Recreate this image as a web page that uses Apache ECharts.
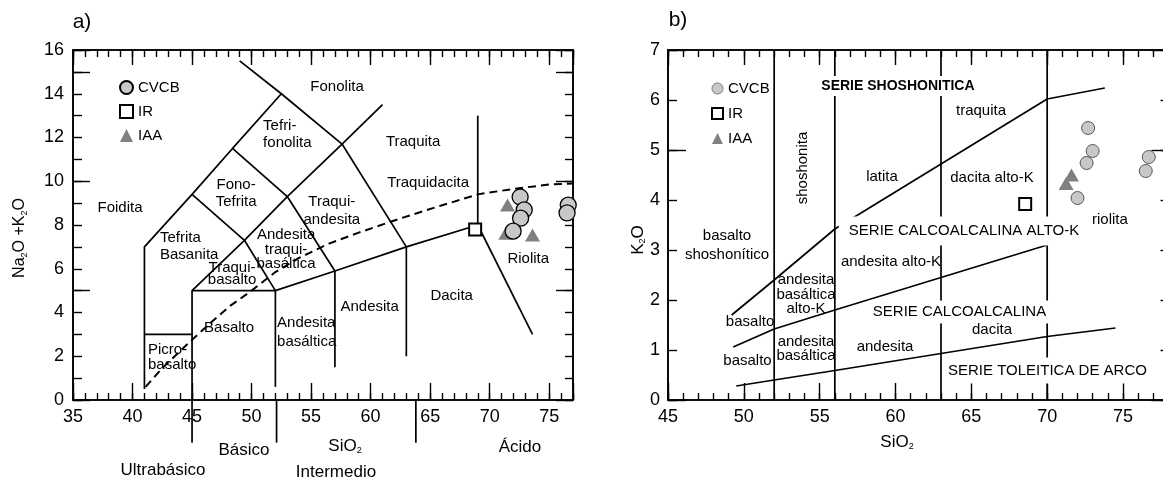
<!DOCTYPE html>
<html><head><meta charset="utf-8">
<script src="https://cdn.jsdelivr.net/npm/echarts@6/dist/echarts.min.js"></script>
<style>html,body{margin:0;padding:0;background:#fff}#c{width:1163px;height:487px}</style>
</head><body><div id="c"></div>
<script>
// ---------------- DATA ----------------
// Panel a) TAS diagram (SiO2 vs Na2O+K2O)
const tasSiO2Range = [35, 77];
const tasAlkRange = [0, 16];
const tasBoundaries = [
  [[41,0.5],[41,7],[45,9.4],[48.4,11.5],[52.5,14]],
  [[41,3],[45,3]],
  [[45,-1.95],[45,5],[49.4,7.3],[53,9.3],[57.6,11.7],[61,13.5]],
  [[45,9.4],[49.4,7.3],[52,5]],
  [[48.4,11.5],[53,9.3],[57,5.9]],
  [[49,15.5],[52.5,14],[57.6,11.7],[63,7]],
  [[45,5],[52,5],[57,5.9],[63,7],[69,8]],
  [[52,5],[52,0.6]],
  [[57,5.9],[57,1.5]],
  [[63,7],[63,2]],
  [[69,8],[69,13]],
  [[69,8],[73.6,3]]
];
const tasClassDividers = [
  [[52.1,0],[52.1,-1.95]],
  [[63.8,0],[63.8,-1.95]]
];
const tasAlkalineDivide = [[41.1,0.6],[42.5,1.46],[44.8,2.65],[46.5,3.5],[48.2,4.3],[50,5.0],[52,5.85],[54,6.5],[56.5,7.15],[59,7.65],[62.5,8.3],[66,8.9],[69,9.4],[72,9.65],[75,9.85],[77,9.9]];
const tasCVCB = [[72.56,9.28],[72.9,8.69],[72.6,8.31],[71.97,7.72],[76.6,8.91],[76.5,8.55]];
const tasIR = [[68.78,7.8]];
const tasIAA = [[71.5,8.91],[71.36,7.62],[73.6,7.54]];
const tasRockNames = [
  ['Fonolita', 57.18, 14.31],
  ['Tefri-\nfonolita', 50.97, 12.14],
  ['Traquita', 63.57, 11.79],
  ['Traquidacita', 64.83, 9.92],
  ['Traqui-\nandesita', 56.74, 8.64],
  ['Fono-\nTefrita', 48.7, 9.46],
  ['Foidita', 38.95, 8.78],
  ['Tefrita\nBasanita', 42.31, 7.02],
  ['Andesita\ntraqui-\nbasáltica', 52.9, 6.88],
  ['Traqui-\nbasalto', 48.36, 5.76],
  ['Basalto', 48.11, 3.29],
  ['Picro-\nbasalto', 41.3, 1.94],
  ['Andesita\nbasáltica', 52.14, 3.09],
  ['Andesita', 59.92, 4.25],
  ['Dacita', 66.81, 4.75],
  ['Riolita', 73.24, 6.45]
];

// Panel b) K2O vs SiO2
const k2oSiO2Range = [45, 78];
const k2oRange = [0, 7];
const k2oVerticals = [
  [[52,0],[52,7]],
  [[56,0],[56,7]],
  [[63,0],[63,7]],
  [[70,0],[70,7]]
];
const shoshoniteLine = [[49.2,1.7],[52,2.4],[56,3.42],[63,4.72],[70,6.02],[73.8,6.24]];
const highKLine = [[49.3,1.06],[52,1.42],[56,1.8],[63,2.45],[70,3.1]];
const tholeiiteLine = [[49.5,0.28],[52,0.4],[56,0.59],[63,0.93],[70,1.27],[74.5,1.44]];
const k2oCVCB = [[72.7,5.44],[73.0,4.98],[72.6,4.74],[72.0,4.04],[76.7,4.86],[76.5,4.58]];
const k2oIR = [[68.55,3.92]];
const k2oIAA = [[71.6,4.5],[71.25,4.33]];
const k2oNames = [
  ['SERIE SHOSHONITICA', 60.16, 6.28],
  ['shoshonita', 53.9, 4.64],
  ['traquita', 65.64, 5.78],
  ['latita', 59.11, 4.46],
  ['dacita alto-K', 66.36, 4.44],
  ['basalto\nshoshonítico', 48.89, 3.10],
  ['andesita\nbasáltica\nalto-K', 54.1, 2.11],
  ['andesita alto-K', 59.70, 2.76],
  ['basalto', 50.41, 1.56],
  ['SERIE CALCOALCALINA', 64.22, 1.76],
  ['andesita\nbasáltica', 54.1, 1.02],
  ['basalto', 50.24, 0.78],
  ['andesita', 59.31, 1.06],
  ['dacita', 66.36, 1.4],
  ['riolita', 74.14, 3.6],
  ['SERIE TOLEITICA DE ARCO', 70.02, 0.59],
  ['SERIE CALCOALCALINA ALTO-K', 64.32, 3.38]
];

// ---------------- STYLES ----------------
const F = "'Liberation Sans', Arial, Helvetica, sans-serif";
const tasLabelStyle = {
  'Tefri-\nfonolita': {align: 'left', lineHeight: 17},
  'Traqui-\nandesita': {lineHeight: 18},
  'Fono-\nTefrita': {lineHeight: 17},
  'Tefrita\nBasanita': {align: 'left', lineHeight: 17},
  'Andesita\ntraqui-\nbasáltica': {lineHeight: 14.5},
  'Traqui-\nbasalto': {lineHeight: 12.5},
  'Picro-\nbasalto': {align: 'left', lineHeight: 15},
  'Andesita\nbasáltica': {align: 'left', lineHeight: 19}
};
const k2oLabelStyle = {
  'SERIE SHOSHONITICA': {fontWeight: 'bold', fontSize: 14, backgroundColor: '#fff', padding: [3, 3], lineHeight: 14},
  'shoshonita': {rotate: 90},
  'basalto\nshoshonítico': {lineHeight: 19},
  'andesita\nbasáltica\nalto-K': {lineHeight: 14.5},
  'andesita\nbasáltica': {lineHeight: 14},
  'SERIE CALCOALCALINA': {backgroundColor: '#fff', padding: [4, 4], lineHeight: 15},
  'SERIE TOLEITICA DE ARCO': {backgroundColor: '#fff', padding: [3, 4, 8, 4], lineHeight: 15},
  'SERIE CALCOALCALINA ALTO-K': {backgroundColor: '#fff', padding: [6, 4, 8, 10], lineHeight: 15}
};

function axis(grid, pos, range, interval, tickLen, fmt, margin) {
  return {
    type: 'value', gridIndex: grid, position: pos, min: range[0], max: range[1], interval: interval,
    axisLine: {show: true, onZero: false, lineStyle: {color: '#000', width: 1.6}},
    axisTick: {show: true, inside: true, length: tickLen, lineStyle: {color: '#000', width: 1.4}},
    axisLabel: fmt ? {show: true, color: '#000', fontSize: 18, fontFamily: F, margin: margin, formatter: fmt, showMinLabel: true, showMaxLabel: true} : {show: false},
    splitLine: {show: false}, minorTick: {show: false}, minorSplitLine: {show: false}, splitArea: {show: false}
  };
}
const every5 = v => (Math.abs(v % 5) < 1e-9 ? String(v) : '');
const every2 = v => (Math.abs(v % 2) < 1e-9 ? String(v) : '');

function lineSeries(pts, xi, yi, dashed) {
  return {
    type: 'line', xAxisIndex: xi, yAxisIndex: yi, data: pts, symbol: 'none', silent: true, clip: false, z: 2,
    lineStyle: {color: '#000', width: dashed ? 2 : 1.7, type: dashed ? [8, 5] : 'solid', cap: 'butt'},
    emphasis: {disabled: true}
  };
}
function labelSeries(list, styles, xi, yi, baseSize) {
  return {
    type: 'scatter', xAxisIndex: xi, yAxisIndex: yi, symbolSize: 1, silent: true, z: 5,
    itemStyle: {color: 'rgba(0,0,0,0)', opacity: 1},
    label: {show: true, position: 'inside', formatter: '{b}', color: '#000', fontSize: baseSize, fontFamily: F},
    emphasis: {disabled: true},
    data: list.map(d => ({name: d[0], value: [d[1], d[2]], label: Object.assign({}, styles[d[0]] || {})}))
  };
}
function sub(txt) { return txt; }

const series = [];
tasBoundaries.forEach(p => series.push(lineSeries(p, 0, 0, false)));
tasClassDividers.forEach(p => series.push(lineSeries(p, 0, 0, false)));
series.push(lineSeries(tasAlkalineDivide, 0, 0, true));
series.push(labelSeries(tasRockNames, tasLabelStyle, 0, 0, 15));
series.push({type: 'scatter', name: 'IAA', xAxisIndex: 0, yAxisIndex: 0, data: tasIAA, symbol: 'triangle', symbolSize: [15, 13], itemStyle: {color: '#808080', opacity: 1}, z: 6});
series.push({type: 'scatter', name: 'CVCB', xAxisIndex: 0, yAxisIndex: 0, data: tasCVCB, symbol: 'circle', symbolSize: 16, itemStyle: {color: '#c8c8c8', borderColor: '#000', borderWidth: 1.3, opacity: 1}, z: 6});
series.push({type: 'scatter', name: 'IR', xAxisIndex: 0, yAxisIndex: 0, data: tasIR, symbol: 'rect', symbolSize: 12, itemStyle: {color: '#fff', borderColor: '#000', borderWidth: 2, opacity: 1}, z: 6});

k2oVerticals.forEach(p => series.push(lineSeries(p, 4, 4, false)));
[shoshoniteLine, highKLine, tholeiiteLine].forEach(p => series.push(lineSeries(p, 4, 4, false)));
series.push(labelSeries(k2oNames, k2oLabelStyle, 4, 4, 15));
series.push({type: 'scatter', name: 'IAA', xAxisIndex: 4, yAxisIndex: 4, data: k2oIAA, symbol: 'triangle', symbolSize: [15, 13], itemStyle: {color: '#808080', opacity: 1}, z: 6});
series.push({type: 'scatter', name: 'CVCB', xAxisIndex: 4, yAxisIndex: 4, data: k2oCVCB, symbol: 'circle', symbolSize: 13, itemStyle: {color: '#c8c8c8', borderColor: '#555', borderWidth: 1, opacity: 1}, z: 6});
series.push({type: 'scatter', name: 'IR', xAxisIndex: 4, yAxisIndex: 4, data: k2oIR, symbol: 'rect', symbolSize: 12, itemStyle: {color: '#fff', borderColor: '#000', borderWidth: 2, opacity: 1}, z: 6});

function txt(x, y, text, size, extra) {
  return Object.assign({type: 'text', x: x, y: y, silent: true,
    style: {text: text, fontSize: size, fontFamily: F, fill: '#000', align: 'center', verticalAlign: 'middle'}}, extra || {});
}
function richTxt(x, y, text, size, rot) {
  return {type: 'text', x: x, y: y, rotation: rot || 0, silent: true,
    style: {text: text, fill: '#000', align: 'center', verticalAlign: 'middle',
      rich: {n: {fontSize: size, fontFamily: F, lineHeight: size + 2, fill: '#000'},
             s: {fontSize: Math.round(size * 0.55), fontFamily: F, lineHeight: 9, verticalAlign: 'bottom', fill: '#000'}}}};
}

const option = {
  animation: false,
  backgroundColor: '#fff',
  grid: [
    {left: 73, top: 50, width: 500, height: 350, containLabel: false, outerBoundsMode: 'none'},
    {left: 668, top: 50, width: 500.5, height: 350, containLabel: false, outerBoundsMode: 'none'}
  ],
  xAxis: [
    axis(0, 'bottom', tasSiO2Range, 5, 17, every5, 8),
    axis(0, 'bottom', tasSiO2Range, 1, 7),
    axis(0, 'top', tasSiO2Range, 5, 15),
    axis(0, 'top', tasSiO2Range, 1, 7),
    axis(1, 'bottom', k2oSiO2Range, 5, 17, every5, 8),
    axis(1, 'bottom', k2oSiO2Range, 1, 7),
    axis(1, 'top', k2oSiO2Range, 5, 15),
    axis(1, 'top', k2oSiO2Range, 1, 7)
  ],
  yAxis: [
    axis(0, 'left', tasAlkRange, 1, 9, every2, 9),
    axis(0, 'left', tasAlkRange, 5, 17),
    axis(0, 'right', tasAlkRange, 5, 17),
    axis(0, 'right', tasAlkRange, 1, 8),
    axis(1, 'left', k2oRange, 1, 9, v => String(v), 8),
    axis(1, 'left', k2oRange, 5, 18),
    axis(1, 'right', k2oRange, 5, 17),
    axis(1, 'right', k2oRange, 1, 8)
  ],
  legend: [
    {left: 114, top: 75, orient: 'vertical', itemWidth: 13, itemHeight: 13, itemGap: 9, selectedMode: false,
     textStyle: {fontSize: 15, fontFamily: F, color: '#000'},
     data: [{name: 'CVCB', icon: 'circle'}, {name: 'IR', icon: 'rect'}, {name: 'IAA', icon: 'triangle'}]},
    {left: 706, top: 76, orient: 'vertical', itemWidth: 11, itemHeight: 11, itemGap: 10, selectedMode: false,
     textStyle: {fontSize: 15, fontFamily: F, color: '#000'},
     data: [{name: 'CVCB', icon: 'circle', itemStyle: {color: '#c8c8c8', borderColor: '#777', borderWidth: 1}},
            {name: 'IR', icon: 'rect'}, {name: 'IAA', icon: 'triangle'}]}
  ],
  graphic: [
    txt(82, 22, 'a)', 21),
    txt(678, 20, 'b)', 21),
    txt(163, 470, 'Ultrabásico', 17),
    txt(244, 450, 'Básico', 17),
    txt(336, 472, 'Intermedio', 17),
    txt(520, 447, 'Ácido', 17),
    richTxt(345, 446, '{n|SiO}{s|2}', 17),
    richTxt(897, 442, '{n|SiO}{s|2}', 17),
    richTxt(20, 238, '{n|Na}{s|2}{n|O +K}{s|2}{n|O}', 16, Math.PI / 2),
    richTxt(638, 240, '{n|K}{s|2}{n|O}', 17, Math.PI / 2)
  ],
  series: series
};

const chart = echarts.init(document.getElementById('c'), null, {renderer: 'canvas'});
chart.setOption(option);
</script></body></html>
